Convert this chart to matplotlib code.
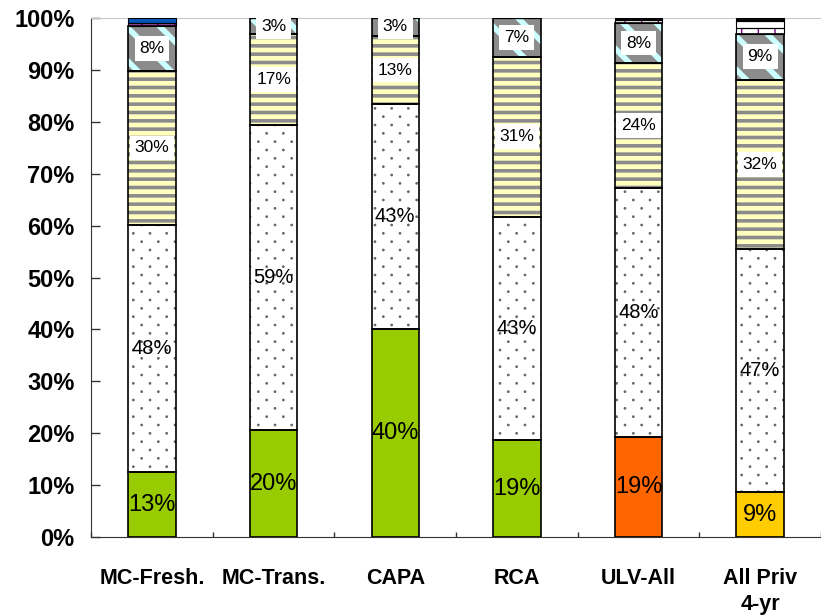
import numpy as np
import matplotlib
matplotlib.use('Agg')
import matplotlib.pyplot as plt
import matplotlib.hatch as mhatch
from matplotlib.path import Path

plt.rcParams['font.family'] = ['Liberation Sans', 'DejaVu Sans']

# --- data (percent of each group) ---
categories = ['MC-Fresh.', 'MC-Trans.', 'CAPA', 'RCA', 'ULV-All', 'All Priv\n4-yr']
base_share = [12.5, 20.6, 40.1, 18.7, 19.3, 8.7]
base_colors = ['#99CC00', '#99CC00', '#99CC00', '#99CC00', '#FF6600', '#FFCC00']
dotted_share = [47.6, 58.8, 43.3, 43.0, 47.9, 46.8]
striped_share = [29.7, 17.4, 13.1, 30.8, 24.1, 32.6]
hatched_share = [8.7, 3.2, 3.5, 7.5, 7.7, 8.8]
purple_share = [0.6, 0, 0, 0, 0.6, 1.1]
pink_share = [0, 0, 0, 0, 0, 1.3]
top_share = [0.9, 0, 0, 0, 0.4, 0.7]
top_colors = ['#0055BB', '#000000', '#000000', '#000000', '#000000', '#000000']

base_labels = ['13%', '20%', '40%', '19%', '19%', '9%']
dotted_labels = ['48%', '59%', '43%', '43%', '48%', '47%']
striped_labels = ['30%', '17%', '13%', '31%', '24%', '32%']
hatched_labels = ['8%', '3%', '3%', '7%', '8%', '9%']


# Excel-like sparse dot texture: staggered rows, twice as many rows as columns
class SparseDots(mhatch.HatchPatternBase):
    radius = 0.008

    def __init__(self, hatch, density):
        n = hatch.count('.') * density
        circ = Path.unit_circle()
        self.shape_vertices = circ.vertices
        self.shape_codes = circ.codes
        self.points = []
        if n:
            rows, cols = 2 * n, n
            for r in range(rows + 1):
                if r % 2 == 0:
                    xs = np.arange(cols + 1) / cols
                else:
                    xs = (np.arange(cols) + 0.5) / cols
                self.points += [(xx, r / rows) for xx in xs]
        self.num_vertices = len(self.points) * len(self.shape_vertices)

    def set_vertices_and_codes(self, vertices, codes):
        sv = self.shape_vertices * self.radius
        np.concatenate([sv + p for p in self.points], out=vertices)
        np.concatenate([self.shape_codes for _ in self.points], out=codes)


mhatch._hatch_types = [SparseDots if t is mhatch.SmallFilledCircles else t
                       for t in mhatch._hatch_types]

x = np.arange(len(categories))
width = 0.39

fig = plt.figure(figsize=(8.21, 6.16), dpi=100)
ax = fig.add_axes([0.111, 0.128, 0.889, 0.843])


def segment(vals, bottom, face, hatch=None, hcolor='black', hlw=None, lw=1.2):
    bars = ax.bar(x, vals, width, bottom=bottom, color=face, edgecolor=hcolor,
                  linewidth=0, hatch=hatch, zorder=2)
    if hlw is not None:
        for b in bars:
            if hasattr(b, 'set_hatch_linewidth'):
                b.set_hatch_linewidth(hlw)
    ax.bar(x, vals, width, bottom=bottom, fill=False, edgecolor='black',
           linewidth=lw, zorder=3)
    return np.array(bottom) + np.array(vals)


bottom = np.zeros(len(x))
b0 = bottom.copy()
bottom = segment(base_share, bottom, base_colors)
b1 = bottom.copy()
bottom = segment(dotted_share, bottom, 'white', hatch='.', hcolor='#666666', hlw=0.8)
b2 = bottom.copy()
bottom = segment(striped_share, bottom, '#FFFFC0', hatch='--', hcolor='#8C8C8C', hlw=2.6)
b3 = bottom.copy()
bottom = segment(hatched_share, bottom, '#8C8C8C', hatch='\\', hcolor='#CCFFFF', hlw=4.0)
b4 = bottom.copy()
bottom = segment(purple_share, bottom, 'white', hatch='+', hcolor='#800080', hlw=1.0, lw=0.8)
bottom = segment(pink_share, bottom, 'white', hatch='--', hcolor='#FF6680', hlw=1.0, lw=0.8)
bottom = segment(top_share, bottom, top_colors, lw=0.8)

for i in range(len(x)):
    ax.text(x[i], (b0[i] + b1[i]) / 2, base_labels[i], ha='center', va='center',
            fontsize=17, zorder=5)
    ax.text(x[i], (b1[i] + b2[i]) / 2, dotted_labels[i], ha='center', va='center',
            fontsize=14.5, zorder=5)
    ax.text(x[i], (b2[i] + b3[i]) / 2, striped_labels[i], ha='center', va='center',
            fontsize=12.5, zorder=5,
            bbox=dict(facecolor='white', edgecolor='none', pad=3.5))
    ax.text(x[i], (b3[i] + b4[i]) / 2, hatched_labels[i], ha='center', va='center',
            fontsize=12.5, zorder=5,
            bbox=dict(facecolor='white', edgecolor='none', pad=3.5))

ax.set_xlim(-0.5, 5.48)
ax.set_ylim(0, 100)
ax.set_yticks(np.arange(0, 101, 10))
ax.set_yticklabels([f'{v}%' for v in range(0, 101, 10)], fontsize=17, fontweight='bold')
ax.tick_params(axis='y', direction='in', length=6.5, width=1, pad=12, color='#333333')

ax.set_xticks(np.arange(-0.5, 5.6, 1.0))
ax.set_xticklabels([])
ax.set_xticks(x, minor=True)
ax.set_xticklabels(categories, minor=True, fontsize=15.5, fontweight='bold',
                   linespacing=1.35)
ax.tick_params(axis='x', which='both', direction='in', length=3.5, width=1, pad=22,
               color='#333333')

ax.spines['right'].set_visible(False)
ax.spines['top'].set_color('#C8C8C8')
ax.spines['left'].set_color('#333333')
ax.spines['bottom'].set_color('#333333')

fig.savefig('out.png', dpi=100)
